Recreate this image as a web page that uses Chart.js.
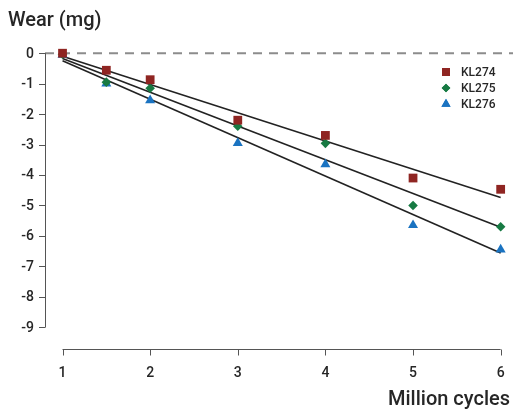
<!DOCTYPE html>
<html>
<head>
<meta charset="utf-8">
<script src="https://cdn.jsdelivr.net/npm/chart.js@4/dist/chart.umd.min.js"></script>
<style>
  html, body { margin: 0; padding: 0; background: #fff; overflow: hidden; }
  #wrap { width: 513px; height: 412px; position: relative; }
</style>
</head>
<body>
<div id="wrap"><canvas id="grafico"></canvas></div>
<script>
// valores
var ciclos = [1, 1.5, 2, 3, 4, 5, 6];
var kl274 = [0, -0.56, -0.87, -2.2, -2.7, -4.1, -4.47];
var kl275 = [-0.03, -0.95, -1.15, -2.4, -2.96, -5.0, -5.7];
var kl276 = [-0.05, -1.0, -1.55, -2.95, -3.65, -5.65, -6.45];
// rectas de tendencia (extremos en x=1 y x=6)
var tendX = [1, 6];
var tend274 = [-0.1, -4.74];
var tend275 = [-0.17, -5.72];
var tend276 = [-0.25, -6.56];
var ticksY = [0, -1, -2, -3, -4, -5, -6, -7, -8, -9];
var ticksX = [1, 2, 3, 4, 5, 6];
var nombres = ["KL274", "KL275", "KL276"];

var FUENTE = "Roboto, 'Liberation Sans', Arial, sans-serif";
var TEXTO = "#262626";

function puntos(xs, ys) {
    return xs.map(function (x, i) { return { x: x, y: ys[i] }; });
}

var ejes = {
    id: "ejes",
    beforeDatasetsDraw: function (chart) {
        var ctx = chart.ctx, ca = chart.chartArea;
        var sx = chart.scales.x, sy = chart.scales.y;
        ctx.save();
        // linea de cero discontinua
        ctx.strokeStyle = "#8c8c8c";
        ctx.lineWidth = 2;
        ctx.setLineDash([9, 7]);
        ctx.beginPath();
        ctx.moveTo(ca.left, sy.getPixelForValue(0));
        ctx.lineTo(chart.width, sy.getPixelForValue(0));
        ctx.stroke();
        ctx.setLineDash([]);

        ctx.strokeStyle = "#555";
        ctx.lineWidth = 1;
        // eje Y
        ctx.beginPath();
        ctx.moveTo(ca.left + 0.5, sy.getPixelForValue(ticksY[0]));
        ctx.lineTo(ca.left + 0.5, sy.getPixelForValue(ticksY[ticksY.length - 1]));
        ticksY.forEach(function (v) {
            var p = Math.round(sy.getPixelForValue(v)) + 0.5;
            ctx.moveTo(ca.left - 6, p);
            ctx.lineTo(ca.left + 0.5, p);
        });
        ctx.stroke();
        ctx.fillStyle = TEXTO;
        ctx.font = "500 14px " + FUENTE;
        ctx.textAlign = "right";
        ctx.textBaseline = "middle";
        ticksY.forEach(function (v) {
            ctx.fillText(String(v), ca.left - 11, sy.getPixelForValue(v) + 1);
        });
        // eje X
        var yb = Math.round(ca.bottom) + 0.5;
        ctx.beginPath();
        ctx.moveTo(sx.getPixelForValue(ticksX[0]), yb);
        ctx.lineTo(sx.getPixelForValue(ticksX[ticksX.length - 1]), yb);
        ticksX.forEach(function (v) {
            var p = Math.round(sx.getPixelForValue(v)) + 0.5;
            ctx.moveTo(p, yb);
            ctx.lineTo(p, yb + 6);
        });
        ctx.stroke();
        ctx.textAlign = "center";
        ticksX.forEach(function (v) {
            ctx.fillText(String(v), sx.getPixelForValue(v), yb + 24);
        });
        // titulos
        ctx.font = "500 20px " + FUENTE;
        ctx.textAlign = "left";
        ctx.textBaseline = "alphabetic";
        ctx.fillText("Wear (mg)", 8, 26);
        ctx.textAlign = "right";
        ctx.fillText("Million cycles", 510, 405);
        ctx.restore();
    },
    afterDatasetsDraw: function (chart) {
        var ctx = chart.ctx;
        ctx.save();
        ctx.font = "500 12px " + FUENTE;
        ctx.fillStyle = TEXTO;
        ctx.textAlign = "left";
        ctx.textBaseline = "middle";
        nombres.forEach(function (n, i) {
            var ds = chart.data.datasets[i];
            var y = 72 + i * 16;
            ctx.fillStyle = ds.backgroundColor;
            Chart.helpers.drawPoint(ctx, { pointStyle: ds.pointStyle, radius: ds.pointRadius - 0.5, borderWidth: 0 }, 446, y);
            ctx.fill();
            ctx.fillStyle = TEXTO;
            ctx.fillText(n, 461, y + 1);
        });
        ctx.restore();
    }
};

function cargaGrafico() {
    var colores = ["#8f2522", "#177a43", "#1a73c1"];
    var estilos = ["rect", "rectRot", "triangle"];
    var radios = [6.2, 4.8, 5.8];
    var series = [kl274, kl275, kl276];
    var tends = [tend274, tend275, tend276];
    var datasets = [];
    series.forEach(function (s, i) {
        datasets.push({
            label: nombres[i],
            data: puntos(ciclos, s),
            showLine: false,
            pointStyle: estilos[i],
            pointRadius: radios[i],
            pointBorderWidth: 0,
            backgroundColor: colores[i],
            borderColor: colores[i],
            clip: false,
            order: 1
        });
    });
    tends.forEach(function (t) {
        datasets.push({
            label: "",
            data: puntos(tendX, t),
            showLine: true,
            pointRadius: 0,
            borderColor: "#222",
            borderWidth: 1.6,
            clip: false,
            order: 2
        });
    });
    new Chart(document.getElementById("grafico").getContext("2d"), {
        type: "scatter",
        data: { datasets: datasets },
        plugins: [ejes],
        options: {
            responsive: true,
            maintainAspectRatio: false,
            animation: false,
            events: [],
            layout: { padding: { left: 45, top: 38, right: 0, bottom: 63.5 } },
            plugins: { legend: { display: false }, tooltip: { enabled: false } },
            scales: {
                x: { type: "linear", min: 0.8, max: 6.07, display: false },
                y: { type: "linear", min: -9.7, max: 0.5, display: false }
            }
        }
    });
}

cargaGrafico();
</script>
</body>
</html>
